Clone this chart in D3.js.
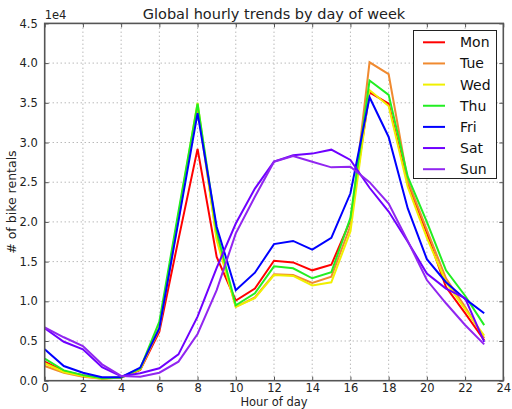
<!DOCTYPE html>
<html>
<head>
<meta charset="utf-8">
<script src="https://cdn.jsdelivr.net/npm/d3@7"></script>
<style>
  html, body { margin: 0; padding: 0; background: #fff; }
  svg { display: block; font-family: "DejaVu Sans", sans-serif; }
</style>
</head>
<body>
<svg id="chart" width="512" height="409"></svg>
<script>
// Hourly bike rentals, one series per weekday
const hours = d3.range(0, 24);
const days = ["Mon", "Tue", "Wed", "Thu", "Fri", "Sat", "Sun"];
const dayColors = ["#ff0000", "#f08a30", "#f0f000", "#22ee22", "#0000ff", "#6f00ff", "#9126f0"];

const mon = [2400, 1200, 700, 300, 400, 1350, 6170, 17800, 29200, 15600, 10100, 11600, 15100, 14900, 13900, 14600, 20200, 36300, 34900, 24800, 18600, 11800, 8500, 5100];
const tue = [1850, 1000, 500, 250, 400, 1400, 6500, 20400, 34400, 18000, 9300, 10500, 13400, 13300, 12300, 13100, 19500, 40100, 38600, 25200, 19000, 12900, 9300, 5340];
const wed = [2200, 1100, 600, 250, 400, 1450, 6800, 20900, 35000, 17700, 9300, 10400, 13300, 13200, 12000, 12400, 18800, 36600, 34600, 24400, 18000, 12400, 9000, 5670];
const thu = [2770, 1300, 700, 300, 400, 1550, 7430, 21300, 34900, 18800, 9500, 11000, 14400, 14150, 12900, 13650, 20500, 37800, 36000, 25700, 20000, 13900, 10700, 7000];
const fri = [3950, 1850, 1000, 430, 450, 1650, 6600, 20100, 33700, 19400, 11400, 13600, 17200, 17600, 16500, 18000, 23600, 35700, 30700, 21700, 15300, 12400, 10300, 8490];
const sat = [6600, 4900, 3950, 1700, 550, 930, 1560, 3320, 8060, 14200, 19800, 24200, 27600, 28400, 28600, 29100, 27800, 24300, 21300, 17500, 13500, 11600, 10400, 4900];
const sun = [6700, 5470, 4370, 2060, 600, 500, 1010, 2400, 5880, 11400, 18560, 23170, 27580, 28300, 27580, 26870, 26950, 25000, 22300, 17600, 12680, 9750, 7020, 4580];

const xTicks = d3.range(0, 25, 2);
const yTicks = d3.range(0, 45001, 5000);

const seriesValues = [mon, tue, wed, thu, fri, sat, sun];

const svg = d3.select("#chart");
const margin = { left: 44.7, right: 512 - 503.3, top: 23.4, bottom: 409 - 380.7 };
const W = 512, H = 409;

const x = d3.scaleLinear().domain([0, 24]).range([margin.left, W - margin.right]);
const y = d3.scaleLinear().domain([0, 45000]).range([H - margin.bottom, margin.top]);

const gridColor = "#9a9a9a";
const frameColor = "#555";

// Dotted grid
svg.append("g")
  .selectAll("line.gx")
  .data(xTicks.slice(1, -1))
  .join("line")
  .attr("x1", d => x(d)).attr("x2", d => x(d))
  .attr("y1", y(0)).attr("y2", y(45000))
  .attr("stroke", gridColor).attr("stroke-width", 1)
  .attr("stroke-dasharray", "1,3");
svg.append("g")
  .selectAll("line.gy")
  .data(yTicks.slice(1, -1))
  .join("line")
  .attr("y1", d => y(d)).attr("y2", d => y(d))
  .attr("x1", x(0)).attr("x2", x(24))
  .attr("stroke", gridColor).attr("stroke-width", 1)
  .attr("stroke-dasharray", "1,3");

// Series lines
const line = d3.line().x((d, i) => x(hours[i])).y(d => y(d));
svg.append("g")
  .selectAll("path")
  .data(seriesValues)
  .join("path")
  .attr("d", d => line(d))
  .attr("fill", "none")
  .attr("stroke", (d, i) => dayColors[i])
  .attr("stroke-width", 2)
  .attr("stroke-linejoin", "miter");

// Axes with inward ticks on all four sides
const tickFmt = d => (d / 10000).toFixed(1);
const axisStyle = g => {
  g.select(".domain").remove();
  g.selectAll(".tick line").attr("stroke", frameColor).attr("stroke-width", 1);
  g.selectAll(".tick text").attr("fill", "#222").style("font-size", "11.5px")
    .style("font-family", "DejaVu Sans, sans-serif");
};

svg.append("g")
  .attr("transform", `translate(0,${y(0)})`)
  .call(d3.axisBottom(x).tickValues(xTicks).tickSize(-4).tickPadding(3).tickFormat(d3.format("d")))
  .call(axisStyle);
svg.append("g")
  .attr("transform", `translate(0,${y(45000)})`)
  .call(d3.axisTop(x).tickValues(xTicks).tickSize(-4).tickFormat(""))
  .call(axisStyle);
svg.append("g")
  .attr("transform", `translate(${x(0)},0)`)
  .call(d3.axisLeft(y).tickValues(yTicks).tickSize(-4).tickPadding(7).tickFormat(tickFmt))
  .call(axisStyle);
svg.append("g")
  .attr("transform", `translate(${x(24)},0)`)
  .call(d3.axisRight(y).tickValues(yTicks).tickSize(-4).tickFormat(""))
  .call(axisStyle);

// Frame
svg.append("rect")
  .attr("x", x(0)).attr("y", y(45000))
  .attr("width", x(24) - x(0)).attr("height", y(0) - y(45000))
  .attr("fill", "none").attr("stroke", frameColor).attr("stroke-width", 1.6);

// Offset label for the y axis
svg.append("text")
  .attr("x", x(0)).attr("y", y(45000) - 4)
  .attr("fill", "#222").style("font-size", "11.5px")
  .text("1e4");

// Title and axis labels
svg.append("text")
  .attr("x", (x(0) + x(24)) / 2).attr("y", 19)
  .attr("text-anchor", "middle").attr("fill", "#222")
  .style("font-size", "14.5px")
  .text("Global hourly trends by day of week");

svg.append("text")
  .attr("x", (x(0) + x(24)) / 2).attr("y", 406)
  .attr("text-anchor", "middle").attr("fill", "#222")
  .style("font-size", "11.5px")
  .text("Hour of day");

svg.append("text")
  .attr("transform", `translate(16,${(y(0) + y(45000)) / 2}) rotate(-90)`)
  .attr("text-anchor", "middle").attr("fill", "#222")
  .style("font-size", "12.5px")
  .text("# of bike rentals");

// Legend
const legend = svg.append("g");
legend.append("rect")
  .attr("x", 413.5).attr("y", 30.5).attr("width", 83).attr("height", 148)
  .attr("fill", "#fff").attr("stroke", "#222").attr("stroke-width", 1);
const rows = legend.selectAll("g.row")
  .data(days)
  .join("g")
  .attr("transform", (d, i) => `translate(0,${42.3 + i * 21.15})`);
rows.append("line")
  .attr("x1", 423).attr("x2", 445).attr("y1", 0).attr("y2", 0)
  .attr("stroke", (d, i) => dayColors[i]).attr("stroke-width", 2);
rows.append("text")
  .attr("x", 460).attr("y", 5)
  .attr("fill", "#111").style("font-size", "14px")
  .text(d => d);
</script>
</body>
</html>
